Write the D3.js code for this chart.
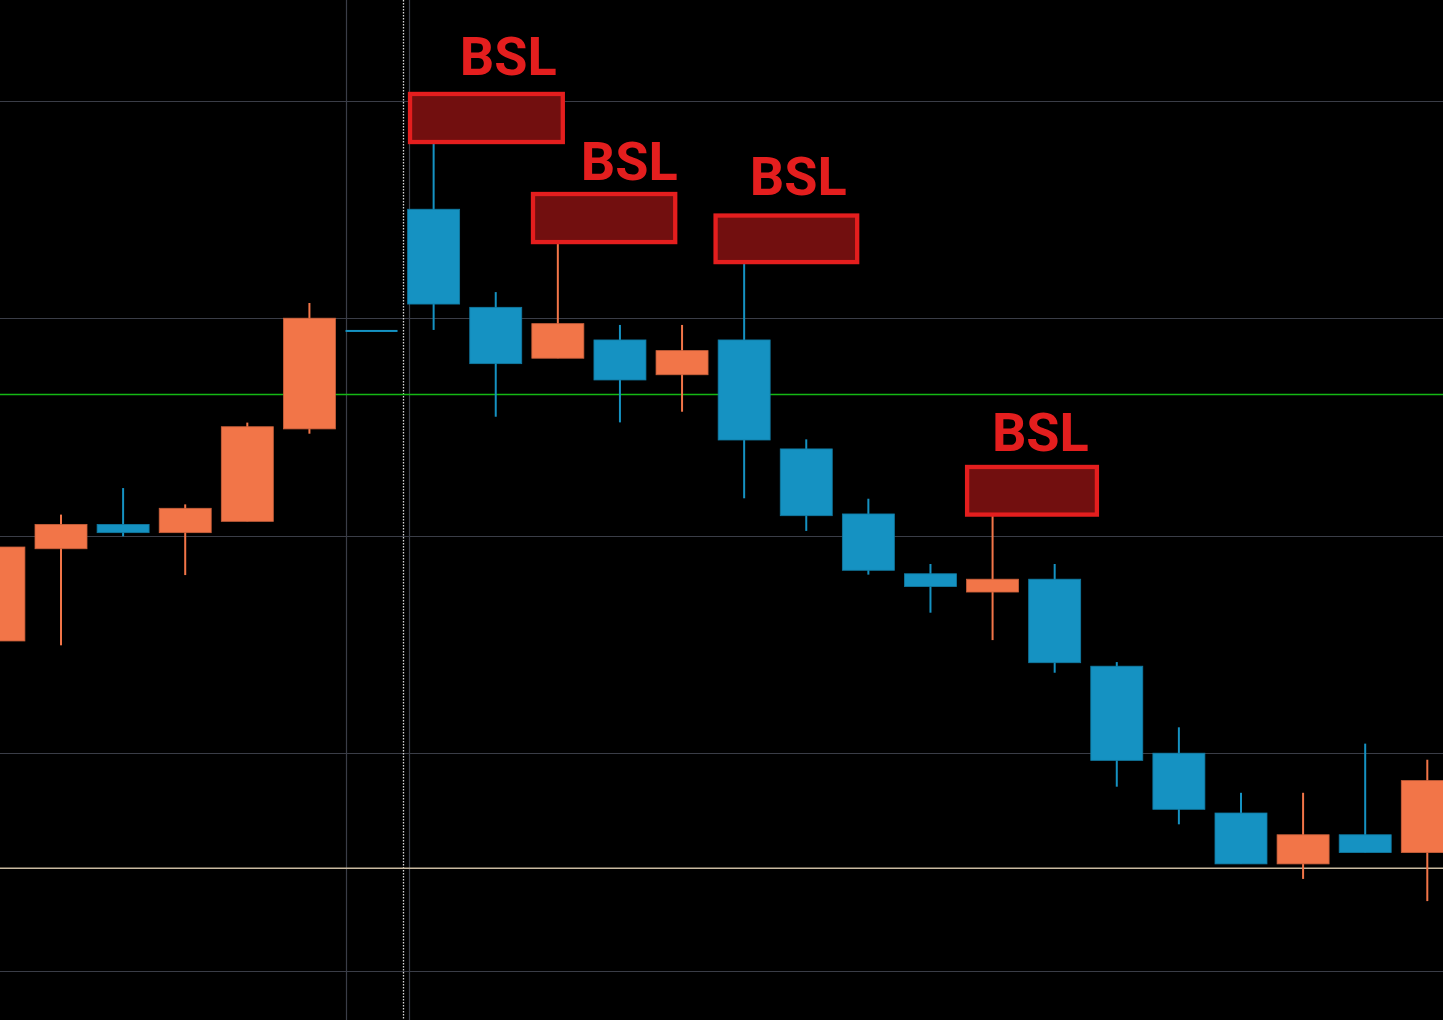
<!doctype html><html><head>
<script src="https://cdnjs.cloudflare.com/ajax/libs/d3/7.8.5/d3.min.js"></script>
<style>
  html, body { margin: 0; padding: 0; background: #000; overflow: hidden; }
  svg { display: block; }
  .bsl { fill: #e41e1e; font: bold 54px Roboto, sans-serif; text-anchor: middle; }
</style>
</head><body>
<script>
  // candle data, one entry per bar (price in pips above the bottom grid line)
  var opens  = [15.16, 19.40, 20.52, 20.14, 20.66, 24.91, 29.46, 35.01, 30.50, 28.16, 29.00, 27.40, 29.00, 23.99, 21.00, 18.25, 17.41, 18.00, 14.00, 10.00, 7.25, 4.91, 6.25, 5.43];
  var highs  = [19.48, 20.97, 22.19, 21.44, 25.20, 30.70, 29.46, 38.06, 31.20, 33.41, 29.69, 29.69, 32.54, 24.43, 21.70, 18.70, 20.91, 18.70, 14.19, 11.19, 8.18, 8.18, 10.44, 9.70];
  var lows   = [15.16, 14.96, 19.97, 18.19, 20.66, 24.69, 29.46, 29.46, 25.47, 28.16, 25.21, 25.70, 21.72, 20.22, 18.21, 16.46, 15.20, 13.70, 8.46, 6.73, 4.91, 4.22, 5.43, 3.20];
  var closes = [19.48, 20.52, 20.14, 21.26, 25.01, 30.00, 29.46, 30.65, 27.91, 29.75, 27.16, 28.51, 24.40, 20.92, 18.41, 17.66, 18.00, 14.16, 9.67, 7.42, 4.91, 6.25, 5.43, 8.74];

  var gridPrices = [0, 10, 20, 30, 40];
  var gridTimes = [5.585, 6.6];
  var cursorTime = 6.5;
  var greenLevel = 26.49;
  var beigeLevel = 4.71;

  // buy-side liquidity zones: [start index, end index, top price, bottom price]
  var zoneStart = [6.62, 8.6, 11.54, 15.59];
  var zoneEnd   = [9.08, 10.89, 13.82, 17.68];
  var zoneTop   = [40.31, 35.71, 34.72, 23.16];
  var zoneBot   = [38.10, 33.50, 32.58, 20.97];
  var labelTime = [8.20, 10.15, 12.87, 16.77];
  var labelBase = [41.18, 36.35, 35.65, 23.89];

  var width = 1443, height = 1020;

  var x = d3.scaleLinear().domain([0, 23]).range([-1.1, 1427.3]);
  var y = d3.scaleLinear().domain([0, 40]).range([970.7, 100.7]);
  var bodyW = 52;

  var svg = d3.select("body").append("svg")
    .attr("width", width)
    .attr("height", height);

  svg.append("rect").attr("width", width).attr("height", height).attr("fill", "#000");

  // grid
  svg.selectAll(".hgrid").data(gridPrices).enter().append("line")
    .attr("x1", 0).attr("x2", width)
    .attr("y1", function(d) { return Math.round(y(d)) + 0.5; })
    .attr("y2", function(d) { return Math.round(y(d)) + 0.5; })
    .attr("stroke", "#3a3d47").attr("stroke-width", 1.2);

  svg.selectAll(".vgrid").data(gridTimes).enter().append("line")
    .attr("y1", 0).attr("y2", height)
    .attr("x1", function(d) { return Math.round(x(d)) + 0.5; })
    .attr("x2", function(d) { return Math.round(x(d)) + 0.5; })
    .attr("stroke", "#3a3d47").attr("stroke-width", 1.2);

  svg.append("line")
    .attr("y1", 0).attr("y2", height)
    .attr("x1", Math.round(x(cursorTime)) + 0.5).attr("x2", Math.round(x(cursorTime)) + 0.5)
    .attr("stroke", "#d8d8d8").attr("stroke-width", 1.3)
    .attr("stroke-dasharray", "1.5,1.5");

  svg.append("line")
    .attr("x1", 0).attr("x2", width)
    .attr("y1", y(greenLevel)).attr("y2", y(greenLevel))
    .attr("stroke", "#14b814").attr("stroke-width", 1.6);

  svg.append("line")
    .attr("x1", 0).attr("x2", width)
    .attr("y1", y(beigeLevel)).attr("y2", y(beigeLevel))
    .attr("stroke", "#c9b9a0").attr("stroke-width", 1.6);

  // candles
  var candles = d3.range(opens.length).map(function(i) {
    return { i: i, o: opens[i], h: highs[i], l: lows[i], c: closes[i] };
  });

  function col(d) { return d.c >= d.o && d.i != 6 ? "#f27548" : "#1592c2"; }
  function edge(d) { return d.c >= d.o && d.i != 6 ? "#c9603b" : "#117aa2"; }

  var g = svg.selectAll(".candle").data(candles).enter().append("g");

  g.append("line")
    .attr("x1", function(d) { return x(d.i); })
    .attr("x2", function(d) { return x(d.i); })
    .attr("y1", function(d) { return y(d.h); })
    .attr("y2", function(d) { return y(d.l); })
    .attr("stroke", col).attr("stroke-width", 2);

  g.append("rect")
    .attr("x", function(d) { return x(d.i) - bodyW / 2; })
    .attr("width", bodyW)
    .attr("y", function(d) { return y(Math.max(d.o, d.c)); })
    .attr("height", function(d) { return Math.max(2, Math.abs(y(d.o) - y(d.c))); })
    .attr("fill", col)
    .attr("stroke", edge).attr("stroke-width", function(d) { return d.o == d.c ? 0 : 0.8; });

  // BSL zones
  var zones = d3.range(zoneStart.length);
  svg.selectAll(".zone").data(zones).enter().append("rect")
    .attr("x", function(k) { return x(zoneStart[k]); })
    .attr("width", function(k) { return x(zoneEnd[k]) - x(zoneStart[k]); })
    .attr("y", function(k) { return y(zoneTop[k]); })
    .attr("height", function(k) { return y(zoneBot[k]) - y(zoneTop[k]); })
    .attr("fill", "#720f0f")
    .attr("stroke", "#e41e1e").attr("stroke-width", 4.3);

  svg.selectAll(".bsl").data(zones).enter().append("text")
    .attr("class", "bsl")
    .attr("x", function(k) { return x(labelTime[k]); })
    .attr("y", function(k) { return y(labelBase[k]); })
    .text("BSL");
</script>
</body></html>
